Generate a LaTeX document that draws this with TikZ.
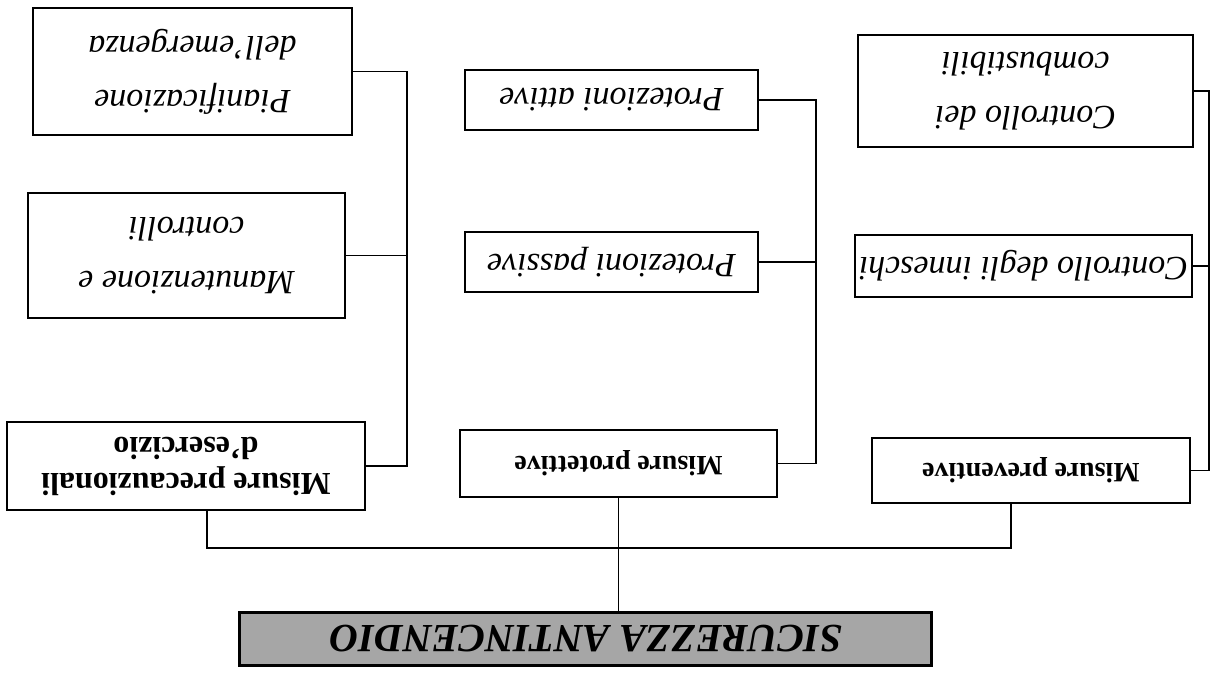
\documentclass[tikz,border=0pt]{standalone}
\usepackage{xcolor}
\usepackage{tikz}
\usepackage{fontspec}
\setmainfont{Liberation Serif}

\begin{document}
\begin{tikzpicture}[x=.5pt,y=.5pt,rotate=180,transform shape]
% Stili (MODIFICABILI)
\tikzstyle{linea}=[line width=.7pt]
\tikzstyle{radice}=[draw,line width=1.5pt,fill=black!35,inner sep=0pt,minimum width=346pt,minimum height=26.5pt,font=\fontsize{20}{24}\selectfont\bfseries\itshape]
\tikzstyle{misura}=[draw,line width=1.4pt,fill=white,inner sep=0pt,align=center,font=\fontsize{14}{18}\selectfont\bfseries]
\tikzstyle{voce}=[draw,line width=.8pt,fill=white,inner sep=0pt,align=center,font=\fontsize{17}{27}\selectfont\itshape]
% Dorsali (MODIFICABILI)
\def\DorsaleP{805}
\def\DorsaleA{396}
\def\DorsaleB{3}
\def\Bus{548}
% Cornice
\useasboundingbox (0,0) rectangle (1212,674);
% Nodi
\node[radice] (S) at (626,638.5) {SICUREZZA ANTINCENDIO};
\node[misura,minimum width=179pt,minimum height=44pt,font=\fontsize{16}{18}\selectfont\bfseries] (P) at (1026,466) {Misure precauzionali\\d'esercizio};
\node[voce,minimum width=158.5pt,minimum height=62.5pt] (P2) at (1025.5,255.5) {Manutenzione e\\controlli};
\node[voce,minimum width=159.5pt,minimum height=63.5pt] (P1) at (1019.5,71.5) {Pianificazione\\dell'emergenza};
\node[misura,minimum width=158.5pt,minimum height=33.5pt] (A) at (593.5,463.5) {Misure protettive};
\node[voce,minimum width=146.5pt,minimum height=30pt] (A2) at (600.5,262) {Protezioni passive};
\node[voce,minimum width=146.5pt,minimum height=30pt] (A1) at (600.5,100) {Protezioni attive};
\node[misura,minimum width=159pt,minimum height=32.5pt] (B) at (181,470.5) {Misure preventive};
\node[voce,minimum width=168.5pt,minimum height=31pt] (B2) at (188.5,266) {Controllo degli inneschi};
\node[voce,minimum width=167.5pt,minimum height=56pt] (B1) at (186.5,91) {Controllo dei\\combustibili};
% Punti di raccordo
\coordinate (gP) at (1005,\Bus);
\coordinate (gB) at (201,\Bus);
\coordinate (dP) at (\DorsaleP,0);
\coordinate (dA) at (\DorsaleA,0);
\coordinate (dB) at (\DorsaleB,0);
% Collegamenti
\draw[linea] (S.south -| A) -- (A.north);
\draw[linea] (P.north -| gP) -- (gP) -- (gB) -- (gB |- B.north);
\draw[linea] (P.west) -- (P.west -| dP) -- (P1.west -| dP) -- (P1.west);
\draw[linea] (P2.west) -- (P2.west -| dP);
\draw[linea] (A.west) -- (A.west -| dA) -- (A1.west -| dA) -- (A1.west);
\draw[linea] (A2.west) -- (A2.west -| dA);
\draw[linea] (B.west) -- (B.west -| dB) -- (B1.west -| dB) -- (B1.west);
\draw[linea] (B2.west) -- (B2.west -| dB);
\end{tikzpicture}
\end{document}
